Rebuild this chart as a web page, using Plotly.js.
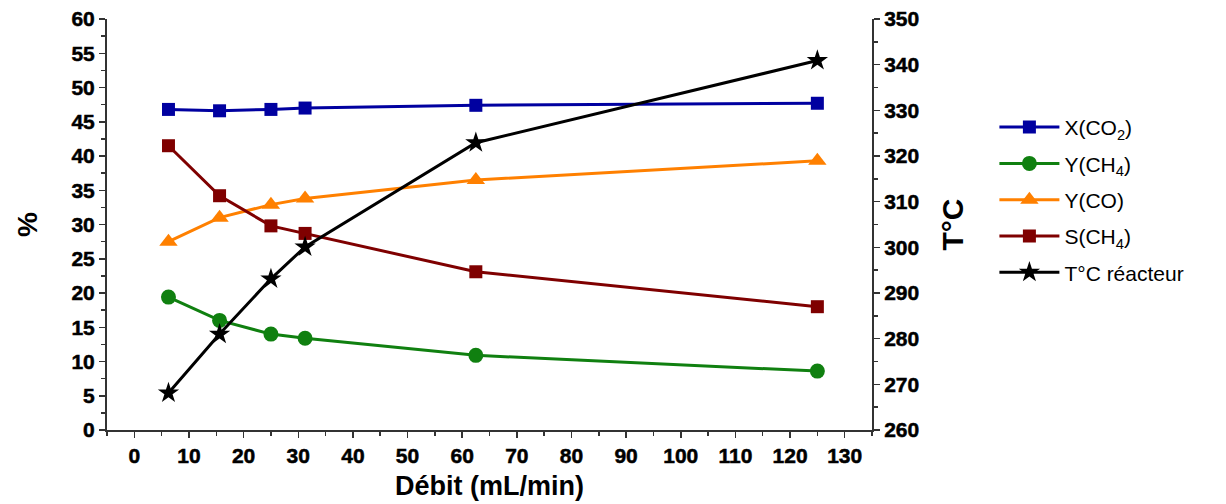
<!DOCTYPE html>
<html><head><meta charset="utf-8">
<script src="https://cdn.plot.ly/plotly-3.0.1.min.js"></script>
<style>body{margin:0;background:#fff}#c{width:1226px;height:504px}
.xtick text, .ytick text, .y2tick text {font-weight:700 !important; stroke:#000; stroke-width:0.5px}</style>
</head><body><div id="c"></div>
<script>
const debit = [6.25, 15.6, 25, 31.25, 62.5, 125];
const xCO2 = [46.8, 46.6, 46.8, 47.0, 47.4, 47.7];
const yCH4 = [19.4, 16.0, 14.0, 13.4, 10.9, 8.6];
const yCO = [27.5, 31.0, 32.9, 33.8, 36.5, 39.3];
const sCH4 = [41.5, 34.2, 29.8, 28.7, 23.1, 18.0];
const tReact = [268.1, 281.0, 293.1, 300.1, 322.9, 340.9];

const xTicks = [0, 10, 20, 30, 40, 50, 60, 70, 80, 90, 100, 110, 120, 130];
const yTicks = [0, 5, 10, 15, 20, 25, 30, 35, 40, 45, 50, 55, 60];
const y2Ticks = [260, 270, 280, 290, 300, 310, 320, 330, 340, 350];
const bold = a => a.map(v => '<b>' + v + '</b>');

const F = '"Liberation Sans", Arial, sans-serif';
function tr(y, name, color, sym, size, g, yaxis) {
  return {x: debit, y: y, name: name, type: 'scatter', mode: 'lines+markers', yaxis: yaxis || 'y',
    legendgroup: g,
    line: {color: color, width: 3}, marker: {color: color, symbol: sym, size: size}};
}
const data = [
  tr(xCO2, 'X(CO<sub>2</sub>)', '#0000a0', 'square', 13, 'a'),
  tr(yCH4, 'Y(CH<sub>4</sub>)', '#108010', 'circle', 15, 'b'),
  tr(yCO, 'Y(CO)', '#ff8000', 'triangle-up', 16, 'c'),
  tr(sCH4, 'S(CH<sub>4</sub>)', '#7f0000', 'square', 13, 'd'),
  tr(tReact, 'T°C réacteur', '#000000', 'star', 16, 'e', 'y2')
];
const axBase = {showgrid: false, zeroline: false, showline: true, linecolor: '#333', linewidth: 2,
  ticks: 'outside', ticklen: 6, tickwidth: 1.5, tickcolor: '#333', tickmode: 'array',
  tickfont: {family: F, size: 21, color: '#000', weight: 700}};
const layout = {
  width: 1226, height: 504, paper_bgcolor: '#fff', plot_bgcolor: '#fff',
  margin: {l: 107, r: 354, t: 19, b: 74},
  font: {family: F},
  xaxis: Object.assign({}, axBase, {range: [-5, 135], tickvals: xTicks, ticktext: bold(xTicks),
    minor: {dtick: 5, tick0: 0, ticks: 'outside', ticklen: 4, tickcolor: '#333', tickwidth: 1.5},
    title: {text: 'Débit (mL/min)', font: {family: F, size: 27, weight: 700, color: '#000'}, standoff: 10}}),
  yaxis: Object.assign({}, axBase, {range: [0, 60], tickvals: yTicks, ticktext: bold(yTicks),
    minor: {dtick: 2.5, tick0: 0, ticks: 'outside', ticklen: 4, tickcolor: '#333', tickwidth: 1.5},
    title: {text: '%', font: {family: F, size: 28, weight: 700, color: '#000'}, standoff: 26}}),
  yaxis2: Object.assign({}, axBase, {range: [260, 350], tickvals: y2Ticks, ticktext: bold(y2Ticks), overlaying: 'y', side: 'right',
    minor: {dtick: 5, tick0: 0, ticks: 'outside', ticklen: 4, tickcolor: '#333', tickwidth: 1.5},
    title: {text: 'T°C', font: {family: F, size: 30, weight: 700, color: '#000'}, standoff: 24}}),
  legend: {x: 1.16, y: 0.786, xanchor: 'left', yanchor: 'top', font: {family: F, size: 21, color: '#000'},
    tracegroupgap: 6, itemwidth: 60, bgcolor: 'rgba(0,0,0,0)'},
  showlegend: true
};
Plotly.newPlot('c', data, layout, {displayModeBar: false, staticPlot: true});
</script></body></html>
